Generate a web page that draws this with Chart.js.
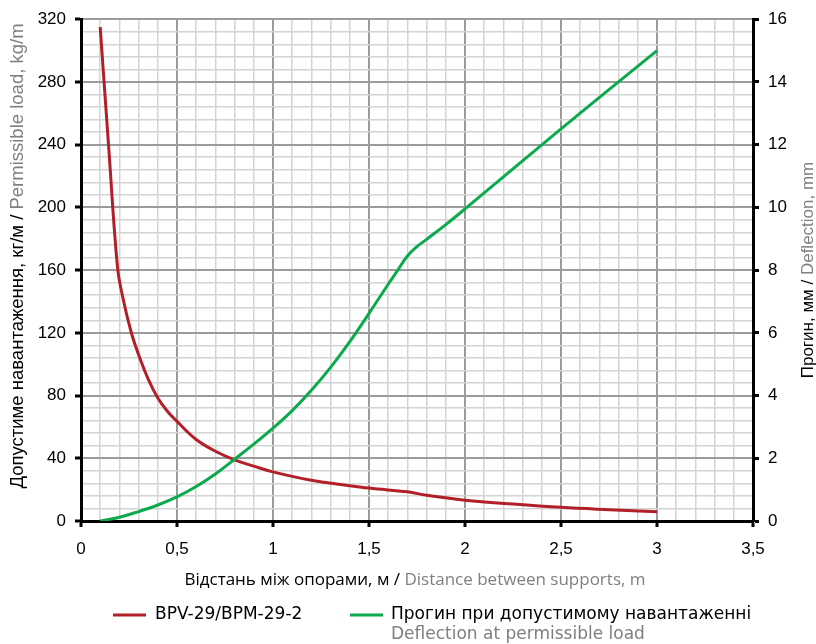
<!DOCTYPE html>
<html>
<head>
<meta charset="utf-8">
<script src="https://cdn.jsdelivr.net/npm/chart.js@4.4.1/dist/chart.umd.min.js"></script>
<style>
  body { margin: 0; background: #fff; }
  canvas { display: block; }
</style>
</head>
<body>
<canvas id="chart" width="816" height="644"></canvas>
<script>
// навантаження (ліва вісь), кг/м
const loadX = [0.1, 0.145, 0.19, 0.217, 0.26, 0.3, 0.35, 0.4, 0.45, 0.5, 0.6, 0.7, 0.8, 0.9, 1.0, 1.2, 1.5, 1.7, 1.8, 2.0, 2.25, 2.5, 2.75, 3.0];
const loadY = [315, 237, 162, 143, 121, 106, 90.5, 78.5, 70, 63.5, 52, 44.5, 39, 35, 31.3, 26, 21, 18.6, 16.4, 13.3, 10.8, 8.7, 7.2, 5.9];

// прогин (права вісь), мм
const deflX = [0.1, 0.2, 0.3, 0.4, 0.5, 0.6, 0.7, 0.8, 0.9, 1.0, 1.1, 1.2, 1.3, 1.4, 1.5, 1.6, 1.65, 1.7, 1.75, 1.8, 1.9, 2.0, 2.5, 3.0];
const deflY = [0, 0.12, 0.3, 0.51, 0.77, 1.1, 1.5, 1.97, 2.45, 2.96, 3.52, 4.17, 4.9, 5.72, 6.62, 7.55, 8.0, 8.45, 8.75, 8.98, 9.45, 9.95, 12.5, 15];

const seriesNames = ['BPV-29/BPM-29-2', 'Прогин при допустимому навантаженні'];
const seriesSubNames = ['', 'Deflection at permissible load'];
const xTitle = ['Відстань між опорами, м / ', 'Distance between supports, m'];
const yTitle = ['Допустиме навантаження, кг/м / ', 'Permissible load, kg/m'];
const y1Title = ['Прогин, мм / ', 'Deflection, mm'];

const RED = '#b31f29';
const GREEN = '#0caa4d';
const GREY_TEXT = '#7f7f7f';
const MAJOR = '#9b9b9c';
const MINOR = '#d4d4d4';

const toPoints = (xs, ys) => xs.map((x, i) => ({x: x, y: ys[i]}));
const fmt = v => String(Math.round(v * 10) / 10).replace('.', ',');

const isMajorX = v => Math.round(v * 10) % 5 === 0;
const isMajorY = v => Math.round(v) % 40 === 0;
const isMajorY1 = v => Math.round(v * 10) % 20 === 0;

// підписи осей та легенда
const textPlugin = {
  id: 'texts',
  afterDraw(chart) {
    const ctx = chart.ctx;

    function twoTone(parts, x, y, font) {
      ctx.font = font;
      const w0 = ctx.measureText(parts[0]).width;
      const w1 = ctx.measureText(parts[1]).width;
      let start = x - (w0 + w1) / 2;
      ctx.textAlign = 'left';
      ctx.textBaseline = 'middle';
      ctx.fillStyle = '#000';
      ctx.fillText(parts[0], start, y);
      ctx.fillStyle = GREY_TEXT;
      ctx.fillText(parts[1], start + w0, y);
    }

    ctx.save();
    twoTone(xTitle, 415, 580, '17px "Open Sans"');

    ctx.save();
    ctx.translate(18, 256);
    ctx.rotate(-Math.PI / 2);
    twoTone(yTitle, 0, 0, '18.5px "Liberation Sans"');
    ctx.restore();

    ctx.save();
    ctx.translate(808, 270);
    ctx.rotate(-Math.PI / 2);
    twoTone(y1Title, 0, 0, '17px "Liberation Sans"');
    ctx.restore();

    // легенда
    ctx.lineWidth = 3;
    ctx.strokeStyle = RED;
    ctx.beginPath();
    ctx.moveTo(113, 615);
    ctx.lineTo(146, 615);
    ctx.stroke();
    ctx.strokeStyle = GREEN;
    ctx.beginPath();
    ctx.moveTo(350, 615);
    ctx.lineTo(383, 615);
    ctx.stroke();

    ctx.font = '17px "DejaVu Sans"';
    ctx.textAlign = 'left';
    ctx.textBaseline = 'middle';
    ctx.fillStyle = '#000';
    ctx.fillText(seriesNames[0], 155, 615);
    ctx.fillText(seriesNames[1], 391, 615);
    ctx.fillStyle = GREY_TEXT;
    ctx.fillText(seriesSubNames[1], 391, 635);
    ctx.restore();
  }
};

const tickFont = {family: 'Liberation Sans', size: 17};

new Chart(document.getElementById('chart'), {
  type: 'line',
  data: {
    datasets: [
      {
        label: seriesNames[1],
        data: toPoints(deflX, deflY),
        borderColor: GREEN,
        borderWidth: 3,
        pointRadius: 0,
        tension: 0.4,
        yAxisID: 'y1'
      },
      {
        label: seriesNames[0],
        data: toPoints(loadX, loadY),
        borderColor: RED,
        borderWidth: 3,
        pointRadius: 0,
        tension: 0.4,
        yAxisID: 'y'
      }
    ]
  },
  options: {
    responsive: false,
    devicePixelRatio: 1,
    animation: false,
    layout: {padding: {top: 17, left: 0, right: 0, bottom: 0}},
    plugins: {
      legend: {display: false},
      tooltip: {enabled: false}
    },
    scales: {
      x: {
        type: 'linear',
        min: 0,
        max: 3.5,
        afterFit: s => { s.height = 123; },
        border: {color: '#000', width: 3},
        grid: {
          color: c => isMajorX(c.tick.value) ? MAJOR : MINOR,
          lineWidth: c => isMajorX(c.tick.value) ? 2 : 1.5,
          tickColor: c => isMajorX(c.tick.value) ? '#000' : 'rgba(0,0,0,0)',
          tickLength: 6,
          tickWidth: 3
        },
        ticks: {
          stepSize: 0.1,
          autoSkip: false,
          maxRotation: 0,
          padding: 12,
          color: '#000',
          font: tickFont,
          callback: v => isMajorX(v) ? fmt(v) : ''
        }
      },
      y: {
        type: 'linear',
        position: 'left',
        min: 0,
        max: 320,
        afterFit: s => { s.width = 81; },
        border: {color: '#000', width: 3},
        grid: {
          color: c => isMajorY(c.tick.value) ? MAJOR : MINOR,
          lineWidth: c => isMajorY(c.tick.value) ? 2 : 1.5,
          tickColor: c => isMajorY(c.tick.value) ? '#000' : 'rgba(0,0,0,0)',
          tickLength: 6,
          tickWidth: 3
        },
        ticks: {
          stepSize: 8,
          autoSkip: false,
          padding: 9,
          color: '#000',
          font: tickFont,
          callback: v => isMajorY(v) ? String(v) : ''
        }
      },
      y1: {
        type: 'linear',
        position: 'right',
        min: 0,
        max: 16,
        afterFit: s => { s.width = 63; },
        border: {color: '#000', width: 3},
        grid: {
          drawOnChartArea: false,
          color: 'rgba(0,0,0,0)',
          tickColor: c => isMajorY1(c.tick.value) ? '#000' : 'rgba(0,0,0,0)',
          tickLength: 6,
          tickWidth: 3
        },
        ticks: {
          stepSize: 0.4,
          autoSkip: false,
          padding: 9,
          color: '#000',
          font: tickFont,
          callback: v => isMajorY1(v) ? String(Math.round(v)) : ''
        }
      }
    }
  },
  plugins: [textPlugin]
});
</script>
</body>
</html>
